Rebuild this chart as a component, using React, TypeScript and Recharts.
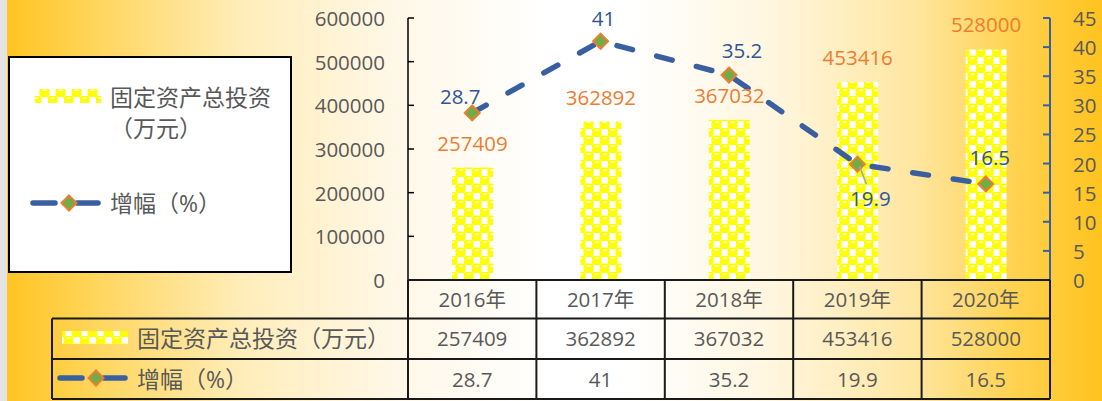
import React from 'react';
import { ComposedChart, Bar, Line, XAxis, YAxis, LabelList } from 'recharts';

const categories = ['2016年', '2017年', '2018年', '2019年', '2020年'];
const investment = [257409, 362892, 367032, 453416, 528000];
const growth = [28.7, 41, 35.2, 19.9, 16.5];
const leftTicks = [0, 100000, 200000, 300000, 400000, 500000, 600000];
const rightTicks = [0, 5, 10, 15, 20, 25, 30, 35, 40, 45];
const seriesNames = ['固定资产总投资（万元）', '增幅（%）'];

// label placement (style only)
const growthLabelOffsets: [number, number][] = [
  [-12, -17],
  [3, -23],
  [13, -25],
  [13, 34],
  [4, -27],
];

const data = categories.map((c, i) => ({ name: c, investment: investment[i], growth: growth[i] }));

const W = 1102;
const H = 401;
const PLOT_LEFT = 408;
const PLOT_RIGHT = 1050;
const PLOT_TOP = 18;
const PLOT_BOTTOM = 280;
const ROW1 = 318.5;
const ROW2 = 359;
const ROW3 = 399;
const TABLE_LEFT = 52;

const FONT = "'Open Sans', 'Noto Sans CJK SC', sans-serif";
const GREY = '#595959';
const ORANGE = '#ED7D31';
const BLUE_TEXT = '#2F5597';
const LINE_BLUE = '#3A5FA0';
const GREEN = '#70AD47';

const diamond = (cx: number, cy: number, r = 7.5) =>
  `M${cx},${cy - r} L${cx + r},${cy} L${cx},${cy + r} L${cx - r},${cy} Z`;

const LeftTick = (props: any) => {
  const { x, y, payload } = props;
  return (
    <g>
      <line x1={x} x2={x + 6} y1={y} y2={y} stroke="#000" strokeWidth={1.5} />
      <text x={x - 23} y={y} textAnchor="end" dominantBaseline="central" fill={GREY} fontSize={20.5} fontFamily={FONT}>
        {payload.value}
      </text>
    </g>
  );
};

const RightTick = (props: any) => {
  const { x, y, payload } = props;
  return (
    <g>
      <line x1={x} x2={x - 7} y1={y} y2={y} stroke={LINE_BLUE} strokeWidth={2} />
      <text x={x + 23} y={y} textAnchor="start" dominantBaseline="central" fill={GREY} fontSize={20.5} fontFamily={FONT}>
        {payload.value}
      </text>
    </g>
  );
};

const TableTick = (props: any) => {
  const { x, y, payload } = props;
  const i = categories.indexOf(payload.value);
  return (
    <g fontFamily={FONT} fill={GREY} fontSize={20.5} textAnchor="middle">
      <text x={x} y={y + 19} dominantBaseline="central">{payload.value}</text>
      <text x={x} y={y + 58} dominantBaseline="central">{investment[i]}</text>
      <text x={x} y={y + 99} dominantBaseline="central">{growth[i]}</text>
    </g>
  );
};

const Dot = (props: any) => {
  const { cx, cy, index } = props;
  if (cx == null || cy == null) return <g key={index} />;
  return <path key={index} d={diamond(cx, cy)} fill={GREEN} stroke={ORANGE} strokeWidth={2} />;
};

const BarLabel = (props: any) => {
  const { x, y, width, value } = props;
  return (
    <text x={x + width / 2} y={y - 25} textAnchor="middle" dominantBaseline="central" fill={ORANGE} fontSize={20.5} fontFamily={FONT}>
      {value}
    </text>
  );
};

const GrowthLabel = (props: any) => {
  const { x, y, value, index } = props;
  const [dx, dy] = growthLabelOffsets[index] || [0, -20];
  const lx = x + dx;
  const ly = y + dy;
  return (
    <g>
      {dy > 0 && <line x1={x + 2} y1={y + 2} x2={lx - 4} y2={ly - 14} stroke="#A6A6A6" strokeWidth={1.5} />}
      <text x={lx} y={ly} textAnchor="middle" dominantBaseline="central" fill={BLUE_TEXT} fontSize={20.5} fontFamily={FONT}>
        {value}
      </text>
    </g>
  );
};

const LineSwatch = ({ x, y }: { x: number; y: number }) => (
  <g>
    <line x1={x} x2={x + 22} y1={y} y2={y} stroke={LINE_BLUE} strokeWidth={5.5} strokeLinecap="round" />
    <line x1={x + 44} x2={x + 65} y1={y} y2={y} stroke={LINE_BLUE} strokeWidth={5.5} strokeLinecap="round" />
    <path d={diamond(x + 36, y)} fill={GREEN} stroke={ORANGE} strokeWidth={2} />
  </g>
);

export default function App() {
  const n = categories.length;
  const band = (PLOT_RIGHT - PLOT_LEFT) / n;
  const colLines = Array.from({ length: n + 1 }, (_, k) => PLOT_LEFT + k * band);
  return (
    <div
      style={{
        position: 'absolute',
        left: 0,
        top: 0,
        width: W,
        height: H,
        overflow: 'hidden',
        background:
          'linear-gradient(90deg, #FFC31E 0%, #FFD65E 9%, #FFEDBA 22%, #FFF8E8 36%, #FFFFFF 50%, #FFFFFF 57%, #FFF6DF 70%, #FFE6A0 83%, #FFD250 92%, #FFC31E 100%)',
      }}
    >
      <div style={{ position: 'absolute', left: 0, top: 0, width: 7, height: H, background: '#E3E3E3' }} />
      <svg width={0} height={0} style={{ position: 'absolute' }}>
        <defs>
          <pattern id="sphere" patternUnits="userSpaceOnUse" width={16} height={16}>
            <rect x={0} y={0} width={16} height={16} fill="#FFFFFF" />
            <rect x={-0.5} y={-0.5} width={10} height={9.5} rx={3} fill="#FFFF00" />
            <rect x={7.5} y={7.5} width={10} height={9.5} rx={3} fill="#FFFF00" />
            <rect x={-8.5} y={7.5} width={10} height={9.5} rx={3} fill="#FFFF00" />
            <rect x={7.5} y={-8.5} width={10} height={9.5} rx={3} fill="#FFFF00" />
            <rect x={2.5} y={1.5} width={4} height={1.5} fill="#FFFFE8" />
            <rect x={10.5} y={9.5} width={4} height={1.5} fill="#FFFFE8" />
          </pattern>
        </defs>
      </svg>
      <div style={{ position: 'absolute', left: 0, top: 0 }}>
        <ComposedChart
          width={W}
          height={H}
          data={data}
          margin={{ top: PLOT_TOP, right: 0, bottom: H - PLOT_BOTTOM - 38, left: PLOT_LEFT - 100 }}
        >
          <XAxis dataKey="name" height={38} axisLine={false} tickLine={false} tickSize={0} tickMargin={0} interval={0} tick={<TableTick />} />
          <YAxis
            yAxisId="left"
            width={100}
            domain={[0, 600000]}
            ticks={leftTicks}
            interval={0}
            axisLine={{ stroke: '#000', strokeWidth: 1.5 }}
            tickLine={false}
            tickSize={0}
            tickMargin={0}
            tick={<LeftTick />}
          />
          <YAxis
            yAxisId="right"
            orientation="right"
            width={52}
            domain={[0, 45]}
            ticks={rightTicks}
            interval={0}
            axisLine={{ stroke: LINE_BLUE, strokeWidth: 2 }}
            tickLine={false}
            tickSize={0}
            tickMargin={0}
            tick={<RightTick />}
          />
          <Bar yAxisId="left" dataKey="investment" barSize={41} fill="url(#sphere)" isAnimationActive={false}>
            <LabelList dataKey="investment" content={<BarLabel />} />
          </Bar>
          <Line
            yAxisId="right"
            dataKey="growth"
            type="linear"
            stroke={LINE_BLUE}
            strokeWidth={5.5}
            strokeDasharray="16 25"
            strokeLinecap="round"
            dot={<Dot />}
            activeDot={false}
            isAnimationActive={false}
          >
            <LabelList dataKey="growth" content={<GrowthLabel />} />
          </Line>
        </ComposedChart>
      </div>
      <svg width={W} height={H} style={{ position: 'absolute', left: 0, top: 0, pointerEvents: 'none' }}>
        {/* legend */}
        <rect x={9} y={57} width={282} height={215} fill="#FFFFFF" stroke="#000" strokeWidth={2} />
        <rect x={35} y={89} width={66} height={14} fill="url(#sphere)" />
        <text x={110} y={97} dominantBaseline="central" fill={GREY} fontSize={23} fontFamily={FONT}>
          固定资产总投资
        </text>
        <text x={110} y={128} dominantBaseline="central" fill={GREY} fontSize={23} fontFamily={FONT}>
          （万元）
        </text>
        <LineSwatch x={33} y={203} />
        <text x={110} y={203} dominantBaseline="central" fill={GREY} fontSize={23} fontFamily={FONT}>
          {seriesNames[1]}
        </text>
        {/* table */}
        <g stroke="#1A1A1A" strokeWidth={2}>
          <line x1={PLOT_LEFT} x2={PLOT_RIGHT} y1={PLOT_BOTTOM} y2={PLOT_BOTTOM} />
          <line x1={TABLE_LEFT} x2={PLOT_RIGHT} y1={ROW1} y2={ROW1} />
          <line x1={TABLE_LEFT} x2={PLOT_RIGHT} y1={ROW2} y2={ROW2} />
          <line x1={TABLE_LEFT} x2={PLOT_RIGHT} y1={ROW3} y2={ROW3} />
          <line x1={TABLE_LEFT} x2={TABLE_LEFT} y1={ROW1} y2={ROW3} />
          {colLines.map((cx, k) => (
            <line key={k} x1={cx} x2={cx} y1={PLOT_BOTTOM} y2={ROW3} />
          ))}
        </g>
        <rect x={62} y={331} width={66} height={13} fill="url(#sphere)" />
        <text x={137} y={338} dominantBaseline="central" fill={GREY} fontSize={23} fontFamily={FONT}>
          {seriesNames[0]}
        </text>
        <LineSwatch x={60} y={378} />
        <text x={137} y={379} dominantBaseline="central" fill={GREY} fontSize={23} fontFamily={FONT}>
          {seriesNames[1]}
        </text>
      </svg>
    </div>
  );
}
